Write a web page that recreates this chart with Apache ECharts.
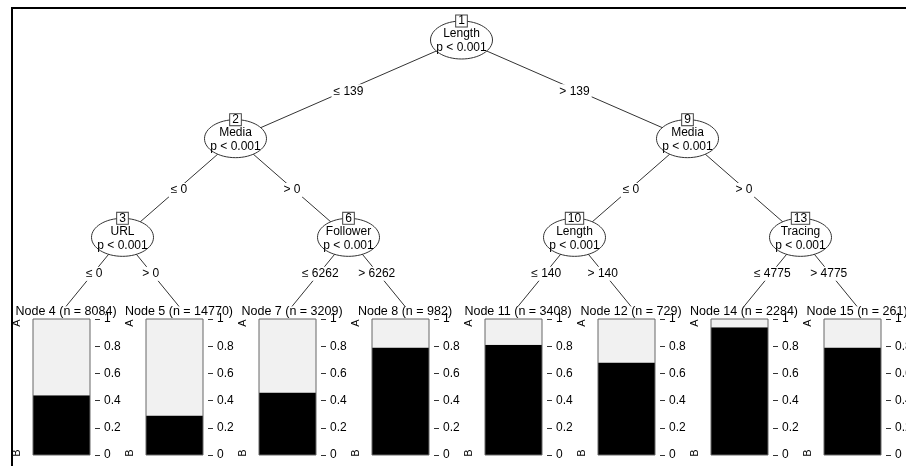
<!DOCTYPE html>
<html>
<head>
<meta charset="utf-8">
<script src="https://cdn.jsdelivr.net/npm/echarts@6/dist/echarts.min.js"></script>
<style>
html, body { margin: 0; padding: 0; background: #fff; }
#main { width: 906px; height: 466px; }
</style>
</head>
<body>
<div id="main"></div>
<script>
// split nodes
var innerIds = [1, 2, 3, 6, 9, 10, 13];
var innerVars = ['Length', 'Media', 'URL', 'Follower', 'Media', 'Length', 'Tracing'];
var innerP = ['p < 0.001', 'p < 0.001', 'p < 0.001', 'p < 0.001', 'p < 0.001', 'p < 0.001', 'p < 0.001'];

// edges (parent -> child) and split labels
var edgeFrom = [1, 1, 2, 2, 3, 3, 6, 6, 9, 9, 10, 10, 13, 13];
var edgeTo = [2, 9, 3, 6, 4, 5, 7, 8, 10, 13, 11, 12, 14, 15];
var edgeLabels = ['≤ 139', '> 139', '≤ 0', '> 0', '≤ 0', '> 0', '≤ 6262', '> 6262',
    '≤ 0', '> 0', '≤ 140', '> 140', '≤ 4775', '> 4775'];

// terminal nodes
var leafIds = [4, 5, 7, 8, 11, 12, 14, 15];
var leafN = [8084, 14770, 3209, 982, 3408, 729, 2284, 261];
var leafB = [0.44, 0.29, 0.46, 0.79, 0.81, 0.68, 0.94, 0.79];
var leafA = [0.56, 0.71, 0.54, 0.21, 0.19, 0.32, 0.06, 0.21];
var classLabels = ['B', 'A'];
var yTicks = [0, 0.2, 0.4, 0.6, 0.8, 1];

var FONT = '"Liberation Sans", Arial, sans-serif';
var LEAF_TOP = 2.7; // where edges meet the terminal panels (in depth units)

// tree layout: leaves evenly spaced, split nodes centred over their children
var pos = {};
leafIds.forEach(function (id, i) { pos[id] = {x: i, leaf: true}; });
function place(id, depth) {
    if (pos[id] && pos[id].leaf) { pos[id].y = depth; return pos[id].x; }
    var xs = [];
    edgeFrom.forEach(function (p, k) { if (p === id) xs.push(place(edgeTo[k], depth + 1)); });
    var x = xs.reduce(function (a, b) { return a + b; }, 0) / xs.length;
    pos[id] = {x: x, y: depth};
    return x;
}
place(1, 0);

var edgeData = edgeFrom.map(function (p, k) {
    var c = pos[edgeTo[k]];
    return [pos[p].x, pos[p].y, c.x, c.leaf ? LEAF_TOP : c.y];
});
var nodeData = innerIds.map(function (id) { return [pos[id].x, pos[id].y]; });

var chartDom = document.getElementById('main');
var myChart = echarts.init(chartDom);

var grids = [{left: 66, right: 49, top: 40, bottom: 130, show: false, outerBoundsMode: 'none'}];
var xAxes = [{gridIndex: 0, type: 'value', min: 0, max: 7, show: false}];
var yAxes = [{gridIndex: 0, type: 'value', min: 0, max: 3, inverse: true, show: false}];
var series = [
    {
        type: 'custom',
        xAxisIndex: 0,
        yAxisIndex: 0,
        z: 1,
        clip: false,
        silent: true,
        data: edgeData,
        renderItem: function (params, api) {
            var p1 = api.coord([api.value(0), api.value(1)]);
            var p2 = api.coord([api.value(2), api.value(3)]);
            return {
                type: 'group',
                children: [
                    {type: 'line', shape: {x1: p1[0], y1: p1[1], x2: p2[0], y2: p2[1]},
                        style: {stroke: '#333', lineWidth: 1}},
                    {type: 'text', x: (p1[0] + p2[0]) / 2, y: (p1[1] + p2[1]) / 2 + 2, z2: 5,
                        style: {text: edgeLabels[params.dataIndex], align: 'center', verticalAlign: 'middle',
                            font: '12px ' + FONT, fill: '#000', backgroundColor: '#fff', padding: [1, 2]}}
                ]
            };
        }
    },
    {
        type: 'custom',
        xAxisIndex: 0,
        yAxisIndex: 0,
        z: 3,
        clip: false,
        silent: true,
        data: nodeData,
        renderItem: function (params, api) {
            var c = api.coord([api.value(0), api.value(1)]);
            var i = params.dataIndex;
            return {
                type: 'group',
                children: [
                    {type: 'ellipse', shape: {cx: c[0], cy: c[1], rx: 31, ry: 19},
                        style: {fill: '#fff', stroke: '#333', lineWidth: 1}},
                    {type: 'text', x: c[0], y: c[1] - 19, z2: 5,
                        style: {text: String(innerIds[i]), align: 'center', verticalAlign: 'middle',
                            font: '12px ' + FONT, fill: '#000', backgroundColor: '#fff',
                            borderColor: '#444', borderWidth: 1, padding: [0, 2, -1, 2]}},
                    {type: 'text', x: c[0], y: c[1] - 6,
                        style: {text: innerVars[i], align: 'center', verticalAlign: 'middle',
                            font: '12px ' + FONT, fill: '#000'}},
                    {type: 'text', x: c[0], y: c[1] + 8,
                        style: {text: innerP[i], align: 'center', verticalAlign: 'middle',
                            font: '12px ' + FONT, fill: '#000'}}
                ]
            };
        }
    }
];

leafIds.forEach(function (id, i) {
    var g = i + 1;
    grids.push({left: 33 + 113 * i, width: 57, top: 319, height: 136, show: true, z: 5,
        outerBoundsMode: 'none', containLabel: false,
        backgroundColor: 'transparent', borderColor: '#666', borderWidth: 1});
    xAxes.push({
        gridIndex: g, type: 'category', data: [''], position: 'top',
        axisLine: {show: false}, axisTick: {show: false}, axisLabel: {show: false},
        name: 'Node ' + id + ' (n = ' + leafN[i] + ')', nameLocation: 'middle', nameGap: 1,
        nameTextStyle: {fontSize: 12.5, fontFamily: FONT, color: '#000', padding: [0, 0, 0, 9]}
    });
    var rightIdx = yAxes.length;
    yAxes.push({
        gridIndex: g, type: 'value', position: 'right', min: 0, max: 1, interval: 0.2, offset: 5,
        axisLine: {show: false}, splitLine: {show: false},
        axisTick: {show: true, length: 5, lineStyle: {color: '#333'}},
        axisLabel: {margin: 9, fontSize: 12, fontFamily: FONT, color: '#000',
            formatter: function (v) { return yTicks.indexOf(Math.round(v * 10) / 10) >= 0 ? String(Math.round(v * 10) / 10) : ''; }}
    });
    yAxes.push({
        gridIndex: g, type: 'value', position: 'left', min: 0, max: 1,
        axisLine: {show: false}, splitLine: {show: false}, axisTick: {show: false},
        axisLabel: {margin: 11, rotate: 90, fontSize: 11, fontFamily: FONT, color: '#000',
            customValues: [0.015, 0.97],
            formatter: function (v) { return v < 0.5 ? classLabels[0] : classLabels[1]; }}
    });
    series.push({
        type: 'bar', xAxisIndex: g, yAxisIndex: rightIdx, stack: 'leaf' + id, barWidth: '100%',
        silent: true, itemStyle: {color: '#000'}, data: [leafB[i]]
    });
    series.push({
        type: 'bar', xAxisIndex: g, yAxisIndex: rightIdx, stack: 'leaf' + id, barWidth: '100%',
        silent: true, itemStyle: {color: '#f1f1f1'}, data: [leafA[i]]
    });
});

var option = {
    backgroundColor: '#fff',
    animation: false,
    grid: grids,
    xAxis: xAxes,
    yAxis: yAxes,
    graphic: [
        {type: 'line', z: 100, silent: true, shape: {x1: 11, y1: 8, x2: 906, y2: 8},
            style: {stroke: '#000', lineWidth: 2}},
        {type: 'line', z: 100, silent: true, shape: {x1: 12, y1: 7, x2: 12, y2: 466},
            style: {stroke: '#000', lineWidth: 2}}
    ],
    series: series
};

option && myChart.setOption(option);
</script>
</body>
</html>
